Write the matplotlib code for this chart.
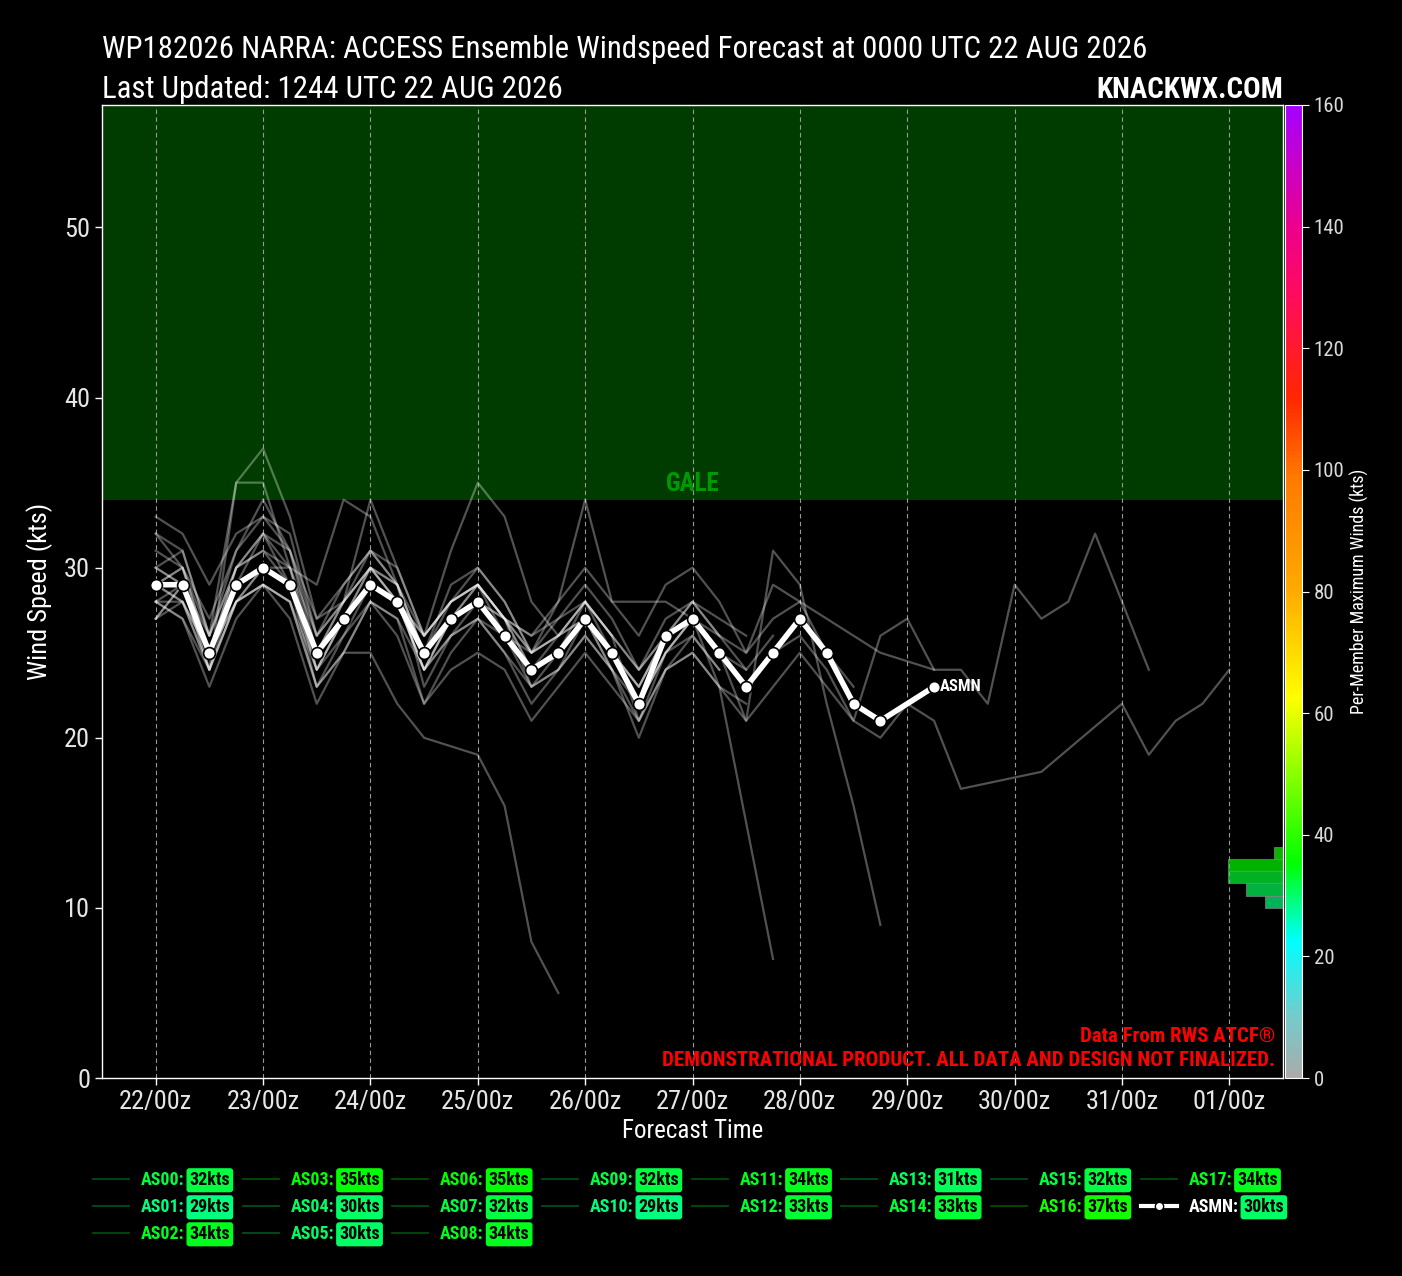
import numpy as np
import matplotlib
matplotlib.use("Agg")
import matplotlib.pyplot as plt
from matplotlib.colors import LinearSegmentedColormap, Normalize
from matplotlib.lines import Line2D
from matplotlib.cm import ScalarMappable
from matplotlib.transforms import blended_transform_factory

FONT = ['Roboto Condensed', 'Open Sans Condensed', 'DejaVu Sans']
plt.rcParams['font.family'] = FONT
plt.rcParams['font.stretch'] = 'condensed'

# ---------------- data ----------------
STEP = 6
AS00 = [32,31,26,30,32,30,24,27,30,29,23,26,28,27,25,26,28,26,21,24,26,24]
AS01 = [28,27,24,28,29,28,23,25,28,27,22,25,27,25,22,24,26,24,20,24,25,23,22]
AS02 = [31,30,26,31,34,31,25,28,30,28,24,27,29,27,24,25,28,26]
AS03 = [30,29,26,35,35,30,26,28,31,29,26,28,29,27,25,26,27,25,23,26,27,25,24]
AS04 = [27,28,24,28,30,29,23,26,29,28,24,26,27,26,23,24,27,25,22,25,27,23,15,7]
AS05_t = [0,6,12,18,24,30,36,42,48,54,60,72,78,84,90]
AS05 = [30,29,25,28,29,27,22,25,25,22,20,19,16,8,5]
AS06 = [29,28,25,30,31,29,24,27,30,28,26,31,35,33,28,26,28,25,23,26,28,26,24,26]
AS07 = [29,30,25,29,32,29,24,27,29,28,24,27,28,26,24,26,27,25,22,25,27,25,23,25,26,24,21,26,27,24]
AS08 = [28,29,24,28,30,30,29,34,33,29,25,28,29,27,23,25,27,25,23,26,27]
AS09_t = [0,6,12,18,24,30,36,42,48,54,60,66,72,78,84,90,96,102,108,114,120,126,132,138,144,
          162,174,180,186,192,198,204,210,216,222]
AS09 = [29,28,25,29,30,29,25,27,29,28,26,28,29,27,26,27,28,26,24,27,28,26,25,29,28,
        25,24,24,22,29,27,28,32,28,24]
AS10_t = [0,6,12,18,24,30,36,42,48,54,60,66,72,78,84,90,96,102,108,114,120,126,132,138,144,
          150,156,162,168,174,180,198,216,222,228,234,240]
AS10 = [28,27,23,27,29,28,23,25,28,26,22,24,25,24,21,23,25,23,21,24,25,23,21,23,25,
        23,21,20,22,21,17,18,22,19,21,22,24]
AS11 = [29,30,25,30,31,30,25,28,34,30,26,28,29,26,24,25,27,24,22,25,26,24]
AS12 = [33,32,29,32,33,31,26,29,31,30,26,28,30,28,25,26,28,26,24,26,27,25,23]
AS13 = [27,29,25,28,29,28,24,26,28,27,24,26,27,25,23,24,26,24,21,25,27,25,21,31,29,22,16,9]
AS14 = [32,30,27,31,33,32,26,28,30,28,25,29,30,28,25,27,29,27,24,26,28,27,26]
AS15 = [30,31,26,30,32,31,27,29,31,29,25,27,28,27,26,28,30,28,26,29,30,28,25,27,28,25,23]
AS16 = [27,29,24,35,37,33,27,28,30,29,25,27,29,27,24,25,27,24]
AS17 = [28,28,24,29,30,29,25,27,29,28,24,27,28,26,25,28,34,28,28,28,27,26]

ASMN_t = [0,6,12,18,24,30,36,42,48,54,60,66,72,78,84,90,96,102,108,114,120,126,132,138,144,
          150,156,162,174]
ASMN = [29,29,25,29,30,29,25,27,29,28,25,27,28,26,24,25,27,25,22,26,27,25,23,25,27,25,22,21,23]

member_names = ['AS00','AS01','AS02','AS03','AS04','AS05','AS06','AS07','AS08','AS09',
                'AS10','AS11','AS12','AS13','AS14','AS15','AS16','AS17']
member_vals = [AS00,AS01,AS02,AS03,AS04,AS05,AS06,AS07,AS08,AS09,
               AS10,AS11,AS12,AS13,AS14,AS15,AS16,AS17]
member_times = {'AS05': AS05_t, 'AS09': AS09_t, 'AS10': AS10_t}

tick_hours = [0,24,48,72,96,120,144,168,192,216,240]
tick_labels = ['22/00z','23/00z','24/00z','25/00z','26/00z','27/00z','28/00z',
               '29/00z','30/00z','31/00z','01/00z']
hist_bins = [28,30,32,34,36,38]
GALE = 34

# ---------------- colormap ----------------
cmap = LinearSegmentedColormap.from_list('wind', [
    (0.0, (0.67,0.67,0.67)),
    (0.0625, (0.45,0.80,0.80)),
    (0.14, (0.0,1.0,1.0)),
    (0.22, (0.0,1.0,0.0)),
    (0.39, (1.0,1.0,0.0)),
    (0.50, (1.0,0.67,0.0)),
    (0.62, (1.0,0.47,0.0)),
    (0.70, (1.0,0.15,0.0)),
    (0.80, (1.0,0.05,0.35)),
    (0.875, (0.93,0.0,0.55)),
    (1.0, (0.65,0.0,1.0))])
norm = Normalize(0, 160)

# ---------------- figure ----------------
W, H = 1402, 1276
fig = plt.figure(figsize=(W/100, H/100), dpi=100, facecolor='black')
L, R, B, T = 102/W, 1283/W, 1-1078/H, 1-105/H
ax = fig.add_axes([L, B, R-L, T-B], facecolor='black')
YTOP = 57.2
ax.set_xlim(-12, 252)
ax.set_ylim(0, YTOP)

ax.axhspan(GALE, YTOP, color=(0.0, 0.235, 0.0), zorder=0, lw=0)
trans = blended_transform_factory(ax.transAxes, ax.transData)
ax.text(0.5, GALE+0.2, 'GALE', transform=trans, ha='center', va='bottom',
        color=(0.0, 0.6, 0.0), fontsize=18, fontweight='bold', zorder=1)

for x in tick_hours:
    ax.axvline(x, color=(0.6,0.6,0.6), lw=0.8, ls=(0,(4,3)), zorder=1)

maxes = []
for name, vals in zip(member_names, member_vals):
    t = member_times.get(name, [i*STEP for i in range(len(vals))])
    ax.plot(t, vals, color='white', alpha=0.32, lw=1.6, zorder=2)
    maxes.append(max(vals))

ax.plot(ASMN_t, ASMN, color='white', lw=4, zorder=5, solid_capstyle='round')
ax.plot(ASMN_t, ASMN, ls='none', marker='o', ms=8.5, mfc='white', mec='black', mew=1.2, zorder=6)
ax.annotate('ASMN', (ASMN_t[-1], ASMN[-1]), xytext=(4, 0), textcoords='offset points',
            color='white', fontsize=12, fontweight='bold', va='center', ha='left', zorder=7)

ax.set_xticks(tick_hours)
ax.set_xticklabels(tick_labels)
ax.set_yticks([0,10,20,30,40,50])
ax.tick_params(colors='white', labelsize=19, length=5, width=1)
for lab in ax.get_xticklabels() + ax.get_yticklabels():
    lab.set_color((0.9,0.9,0.9))
ax.set_ylabel('Wind Speed (kts)', color='white', fontsize=19, labelpad=8)
ax.set_xlabel('Forecast Time', color='white', fontsize=18, labelpad=4)
for s in ax.spines.values():
    s.set_color('white')
    s.set_linewidth(1)

ax.text(0.9935, 0.037, 'Data From RWS ATCF\u00ae', transform=ax.transAxes, ha='right', va='baseline',
        color='red', fontsize=15, fontweight='bold', zorder=8)
ax.text(0.9935, 0.012, 'DEMONSTRATIONAL PRODUCT. ALL DATA AND DESIGN NOT FINALIZED.',
        transform=ax.transAxes, ha='right', va='baseline', color='red', fontsize=15,
        fontweight='bold', zorder=8)

# histogram of member maxima (incl. mean) in colorbar units
hax = fig.add_axes([L, B, R-L, T-B], facecolor='none')
allmax = maxes + [max(ASMN)]
counts, edges = np.histogram(allmax, bins=hist_bins)
centers = (edges[:-1] + edges[1:]) / 2
hax.barh(centers, counts, height=np.diff(edges), left=0,
         color=[cmap(norm(c)) for c in centers], alpha=0.7,
         edgecolor=(0.5,0.5,0.5,0.6), lw=0.8)
hax.set_ylim(0, 160)
hax.set_xlim(6*1181/55, 0)
hax.axis('off')

# colorbar
cax = fig.add_axes([1285/W, B, 17/W, T-B])
cb = fig.colorbar(ScalarMappable(norm=norm, cmap=cmap), cax=cax)
cb.set_ticks(range(0, 161, 20))
cb.outline.set_edgecolor('white')
cax.tick_params(colors='white', labelsize=15, length=5)
for lab in cax.get_yticklabels():
    lab.set_color((0.85,0.85,0.85))
cb.set_label('Per-Member Maximum Winds (kts)', color='white', fontsize=13, labelpad=4)

# titles
fig.text(L, 1-58/H, 'WP182026 NARRA: ACCESS Ensemble Windspeed Forecast at 0000 UTC 22 AUG 2026',
         color='white', fontsize=22.2, ha='left', va='baseline')
fig.text(L, 1-98/H, 'Last Updated: 1244 UTC 22 AUG 2026',
         color='white', fontsize=22.2, ha='left', va='baseline')
fig.text(R, 1-98/H, 'KNACKWX.COM', color='white', fontsize=21, fontweight='bold',
         ha='right', va='baseline')

# legend: name labels, with value boxes placed in the column gaps
LEGFS = 13
fs_px = LEGFS * 100 / 72
rend = fig.canvas.get_renderer()
tmp = fig.text(0, 0, '00kts', fontsize=LEGFS, fontweight='bold')
box_w = tmp.get_window_extent(rend).width
tmp.remove()
BOXPAD = 0.13
GAP = 3
box_total = box_w + 2 * BOXPAD * fs_px + GAP

handles, labels, colors = [], [], []
for name, mx in zip(member_names, maxes):
    c = cmap(norm(mx))
    handles.append(Line2D([], [], color=c, alpha=0.3, lw=1.3))
    labels.append(f'{name}:')
    colors.append(c)
mmx = max(ASMN)
handles.append(Line2D([], [], color='white', lw=3, marker='o', ms=6, mfc='white', mec='black'))
labels.append('ASMN:')
colors.append('white')
colspace = (box_total + 10) / fs_px
leg = fig.legend(handles, labels, loc='upper center',
                 bbox_to_anchor=((L + R) / 2 - 0.5 * box_total / W - 0.002, 1 - 1155 / H),
                 ncol=8, frameon=False, prop={'weight': 'bold', 'size': LEGFS, 'family': FONT},
                 handlelength=2.0, columnspacing=colspace, labelspacing=0.5, handletextpad=0.65)
for t, c in zip(leg.get_texts(), colors):
    t.set_color(c)

fig.canvas.draw()
rend = fig.canvas.get_renderer()
inv = fig.transFigure.inverted()
vals_for_box = maxes + [mmx]
for t, mx in zip(leg.get_texts(), vals_for_box):
    bb = t.get_window_extent(rend)
    x1, y0 = inv.transform((bb.x1 + GAP + BOXPAD * fs_px, bb.y0))
    c = cmap(norm(mx))
    fig.text(x1, y0, f'{mx}kts', ha='left', va='bottom', color='black', fontsize=LEGFS,
             fontweight='bold', zorder=20,
             bbox=dict(boxstyle=f'round,pad={BOXPAD}', fc=c, ec=c))

fig.savefig('out.png', dpi=100, facecolor='black')
